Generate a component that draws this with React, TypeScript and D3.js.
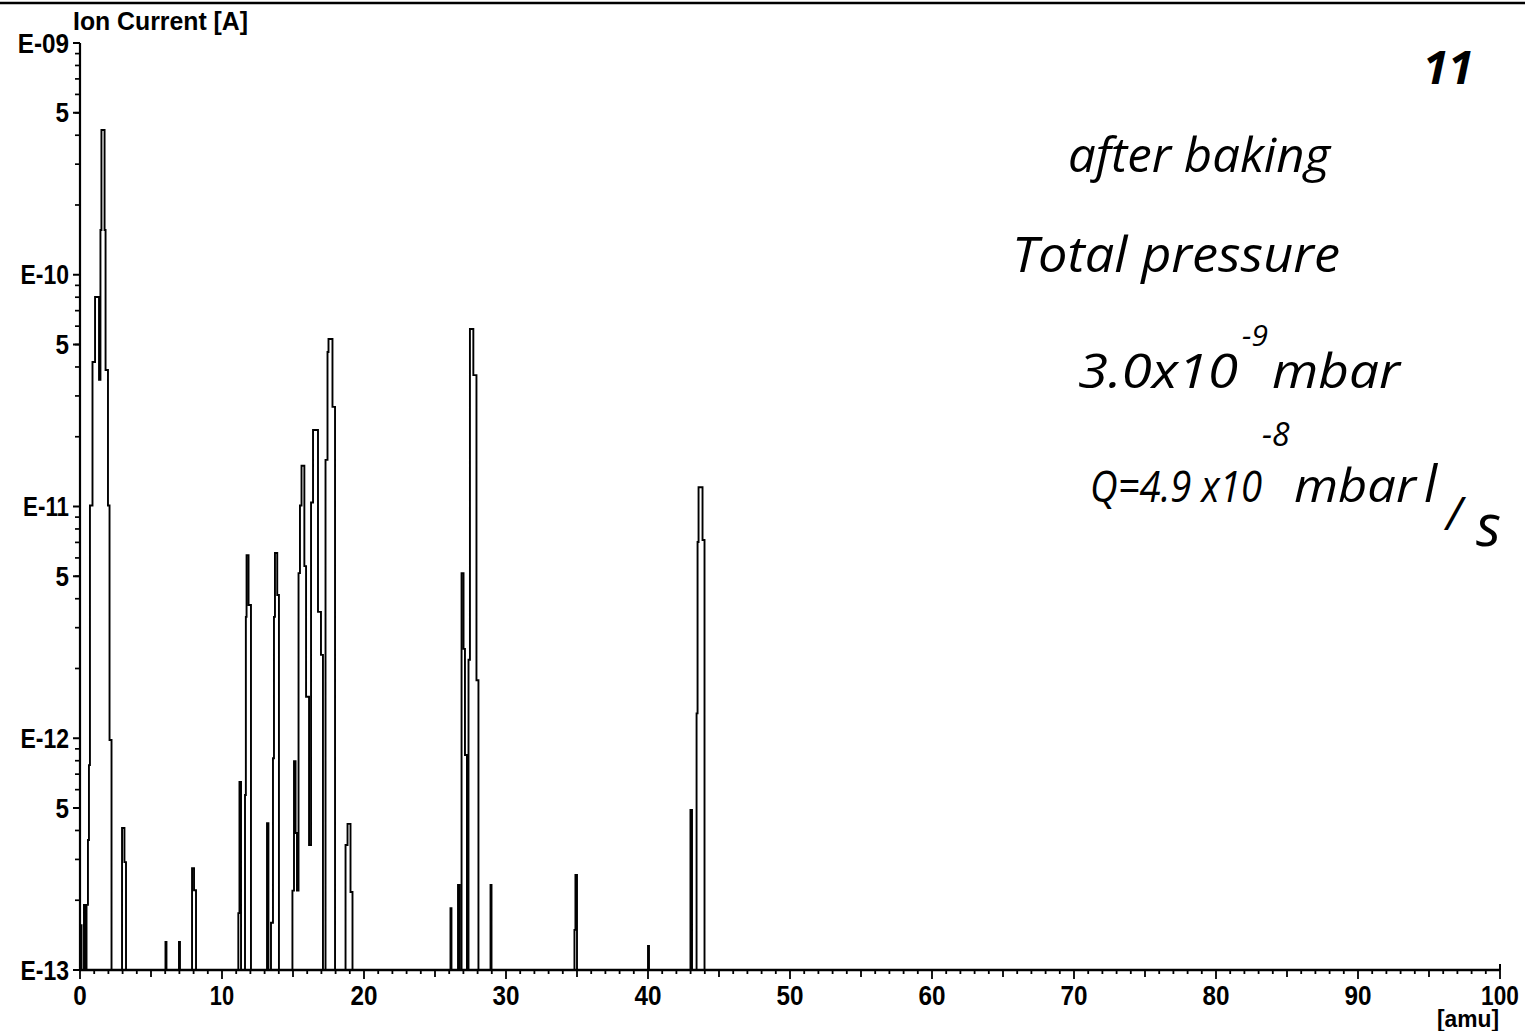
import React from "react";
import * as d3 from "d3";

const WIDTH = 1525;
const HEIGHT = 1031;

// Baseline of the scan (bottom of the current axis)
const BASE = 1e-13;

// Stepped scan segments: [mass in amu, ion current in A]; each segment returns to the baseline
const hydrogenScan: [number, number][] = [
  [0.0, 1.56e-13], [0.11, BASE], [0.28, 1.91e-13], [0.39, BASE], [0.46, 1.91e-13],
  [0.56, 3.64e-13], [0.63, 7.66e-13], [0.7, 1.01e-11], [0.88, 4.2e-11], [1.06, 8.02e-11],
  [1.34, 3.52e-11], [1.44, 1.56e-10], [1.51, 4.21e-10], [1.73, 1.56e-10], [1.8, 3.88e-11],
  [1.97, 1.01e-11], [2.08, 9.83e-13], [2.22, BASE],
  [2.96, 4.1e-13], [3.13, 2.92e-13], [3.24, BASE],
];

const lightScan: [number, number][] = [
  [6.02, 1.32e-13], [6.09, BASE], [6.97, 1.32e-13], [7.04, BASE],
  [7.89, 2.75e-13], [8.03, 2.21e-13], [8.17, BASE],
];

const carbonScan: [number, number][] = [
  [11.15, 1.76e-13], [11.23, 6.47e-13], [11.34, BASE],
  [11.62, 5.69e-13], [11.68, 3.34e-12], [11.73, 6.17e-12], [11.87, 3.76e-12], [12.04, BASE],
  [13.17, 4.3e-13], [13.27, BASE],
  [13.45, 1.6e-13], [13.59, 8.2e-13], [13.66, 3.34e-12], [13.73, 6.3e-12], [13.89, 4.15e-12], [14.01, BASE],
];

const waterScan: [number, number][] = [
  [14.96, 2.2e-13], [15.07, 7.97e-13], [15.18, 3.9e-13], [15.28, 2.2e-13],
  [15.39, 5.16e-12], [15.49, 1.01e-11], [15.6, 1.5e-11], [15.8, 5.53e-12], [15.92, 1.51e-12],
  [16.13, 3.46e-13], [16.27, 1.04e-11], [16.41, 2.14e-11], [16.76, 3.51e-12], [16.97, 2.29e-12],
  [17.11, BASE],
  [17.29, 1.59e-11], [17.43, 4.64e-11], [17.5, 5.28e-11], [17.78, 2.69e-11], [17.96, BASE],
  [18.7, 3.46e-13], [18.84, 4.27e-13], [19.05, 2.17e-13], [19.19, BASE],
];

const carbonMonoxideScan: [number, number][] = [
  [26.09, 1.85e-13], [26.16, BASE], [26.62, 2.33e-13], [26.73, BASE],
  [26.87, 5.16e-12], [27.01, 2.43e-12], [27.11, 8.47e-13], [27.25, BASE],
  [27.36, 2.18e-12], [27.46, 5.83e-11], [27.7, 3.69e-11], [27.92, 1.78e-12], [28.06, BASE],
  [28.91, 2.33e-13], [28.98, BASE],
];

const heavyScan: [number, number][] = [
  [34.82, 1.49e-13], [34.89, 2.57e-13], [35.0, BASE],
  [40.0, 1.27e-13], [40.07, BASE],
  [42.99, 4.9e-13], [43.1, BASE],
  [43.42, 1.28e-12], [43.49, 7.03e-12], [43.56, 1.21e-11], [43.84, 7.17e-12], [43.98, BASE],
];

const massTickLabels = ["0", "10", "20", "30", "40", "50", "60", "70", "80", "90", "100"];
const decadeValues = [1e-9, 1e-10, 1e-11, 1e-12, 1e-13];
const decadeLabels = ["E-09", "E-10", "E-11", "E-12", "E-13"];
const halfDecadeValues = [5e-10, 5e-11, 5e-12, 5e-13];

const axisFont = "'Liberation Sans', Arial, sans-serif";
const handFont = "'Open Sans', 'Noto Sans', sans-serif";

// condensed look for the instrument's bold labels
const narrowWidth = (s: string, size: number) => {
  let w = 0;
  for (const ch of s) {
    if (ch === "-") w += 0.3;
    else if (ch === "E") w += 0.6;
    else if (ch === "[" || ch === "]") w += 0.27;
    else if (ch === "1") w += 0.4;
    else w += 0.5;
  }
  return w * size;
};

export default function App() {
  const x = d3.scaleLinear().domain([0, 100]).range([80, 1500]);
  const y = d3.scaleLog().domain([1e-13, 1e-9]).range([970, 43]);

  const scan: [number, number][] = [
    ...hydrogenScan,
    ...lightScan,
    ...carbonScan,
    ...waterScan,
    ...carbonMonoxideScan,
    ...heavyScan,
    [100, BASE],
  ];

  const line = d3
    .line<[number, number]>()
    .x((d) => x(d[0]))
    .y((d) => y(d[1]))
    .curve(d3.curveStepAfter);

  // minor current ticks: 2..9 within each decade
  const minorCurrent: number[] = [];
  for (let e = -13; e < -9; e++) {
    for (let k = 2; k <= 9; k++) minorCurrent.push(k * Math.pow(10, e));
  }
  const massTicks = d3.range(0, 101, 1);

  const x0 = x(0);
  const yBase = y(BASE);
  const labelSize = 27;

  return (
    <svg
      width={WIDTH}
      height={HEIGHT}
      viewBox={`0 0 ${WIDTH} ${HEIGHT}`}
      style={{ position: "absolute", left: 0, top: 0, background: "#fff" }}
    >
      <rect x={0} y={0} width={WIDTH} height={HEIGHT} fill="#fff" />
      {/* page edge rule */}
      <line x1={0} x2={WIDTH} y1={3} y2={3} stroke="#000" strokeWidth={2.5} />

      {/* current axis */}
      <line x1={x0} x2={x0} y1={y(1e-9)} y2={yBase + 1} stroke="#000" strokeWidth={2.2} />
      {minorCurrent.map((v, i) => (
        <line key={`mc${i}`} x1={x0 - 5} x2={x0} y1={y(v)} y2={y(v)} stroke="#000" strokeWidth={1.7} />
      ))}
      {decadeValues.map((v, i) => (
        <g key={`dv${i}`}>
          <line x1={x0 - 7} x2={x0} y1={y(v)} y2={y(v)} stroke="#000" strokeWidth={2} />
          <text
            x={x0 - 11}
            y={y(v)}
            dy="0.36em"
            textAnchor="end"
            fontFamily={axisFont}
            fontWeight="bold"
            fontSize={labelSize}
            textLength={narrowWidth(decadeLabels[i], labelSize)}
            lengthAdjust="spacingAndGlyphs"
          >
            {decadeLabels[i]}
          </text>
        </g>
      ))}
      {halfDecadeValues.map((v, i) => (
        <g key={`hv${i}`}>
          <line x1={x0 - 7} x2={x0} y1={y(v)} y2={y(v)} stroke="#000" strokeWidth={2} />
          <text
            x={x0 - 11}
            y={y(v)}
            dy="0.36em"
            textAnchor="end"
            fontFamily={axisFont}
            fontWeight="bold"
            fontSize={labelSize}
            textLength={narrowWidth("5", labelSize)}
            lengthAdjust="spacingAndGlyphs"
          >
            5
          </text>
        </g>
      ))}
      <text
        x={73}
        y={30}
        fontFamily={axisFont}
        fontWeight="bold"
        fontSize={26}
        textLength={175}
        lengthAdjust="spacingAndGlyphs"
        fill="#000"
      >
        Ion Current [A]
      </text>

      {/* mass axis */}
      <line x1={x0 - 1} x2={x(100)} y1={yBase} y2={yBase} stroke="#000" strokeWidth={2.6} />
      <line x1={x(100)} x2={x(100)} y1={yBase - 6} y2={yBase} stroke="#000" strokeWidth={2} />
      {massTicks.map((m) => {
        const len = m % 10 === 0 ? 9 : m % 5 === 0 ? 7 : 4;
        return (
          <line
            key={`mt${m}`}
            x1={x(m)}
            x2={x(m)}
            y1={yBase}
            y2={yBase + len}
            stroke="#000"
            strokeWidth={1.8}
          />
        );
      })}
      {massTickLabels.map((lab, i) => (
        <text
          key={`ml${i}`}
          x={x(i * 10)}
          y={1005}
          textAnchor="middle"
          fontFamily={axisFont}
          fontWeight="bold"
          fontSize={labelSize}
          textLength={narrowWidth(lab, labelSize)}
          lengthAdjust="spacingAndGlyphs"
        >
          {lab}
        </text>
      ))}
      <text
        x={1437}
        y={1027}
        fontFamily={axisFont}
        fontWeight="bold"
        fontSize={23}
        textLength={62}
        lengthAdjust="spacingAndGlyphs"
      >
        [amu]
      </text>

      {/* mass scan */}
      <path d={line(scan) ?? ""} fill="none" stroke="#000" strokeWidth={1.9} strokeLinejoin="miter" />

      {/* notes */}
      <g fontFamily={handFont} fontStyle="italic" fill="#000">
        <text x={1423} y={84} fontSize={46} fontWeight="bold">
          11
        </text>
        <text x={1068} y={172} fontSize={48} textLength={262} lengthAdjust="spacingAndGlyphs">
          after baking
        </text>
        <text x={1012} y={272} fontSize={50} textLength={328} lengthAdjust="spacingAndGlyphs">
          Total pressure
        </text>
        <text x={1078} y={388} fontSize={48} textLength={160} lengthAdjust="spacingAndGlyphs">
          3.0x10
        </text>
        <text x={1242} y={346} fontSize={30}>
          -9
        </text>
        <text x={1272} y={388} fontSize={48} textLength={128} lengthAdjust="spacingAndGlyphs">
          mbar
        </text>
        <text x={1090} y={502} fontSize={44} textLength={172} lengthAdjust="spacingAndGlyphs">
          Q=4.9 x10
        </text>
        <text x={1262} y={446} fontSize={32}>
          -8
        </text>
        <text x={1294} y={502} fontSize={46} textLength={122} lengthAdjust="spacingAndGlyphs">
          mbar
        </text>
        <text x={1424} y={502} fontSize={52}>
          l
        </text>
        <text x={1446} y={530} fontSize={46}>
          /
        </text>
        <text x={1476} y={546} fontSize={58}>
          s
        </text>
      </g>
    </svg>
  );
}
